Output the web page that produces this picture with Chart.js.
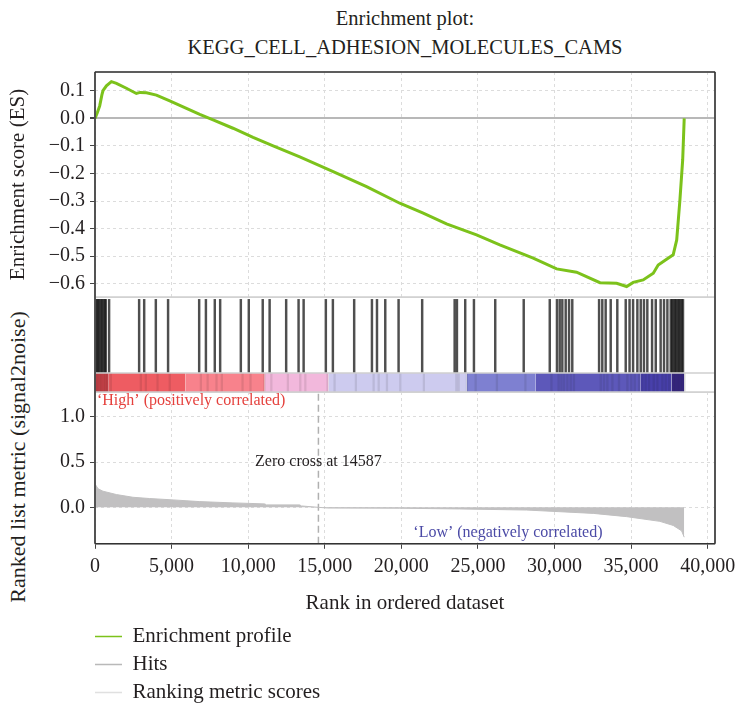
<!DOCTYPE html>
<html>
<head>
<meta charset="utf-8">
<script src="https://cdn.jsdelivr.net/npm/chart.js@4.4.1/dist/chart.umd.min.js"></script>
<style>
  body { margin: 0; background: #fff; width: 738px; height: 706px; position: relative; overflow: hidden;
         font-family: 'Liberation Serif', 'DejaVu Serif', serif; color: #231f20; }
  canvas, .abs { position: absolute; }
  #title { left: 95px; width: 620px; top: 4px; text-align: center; font-size: 20.5px; line-height: 29px; }
  #metricTitle { left: -132px; top: 445px; width: 300px; height: 24px; line-height: 24px; font-size: 22px;
                 text-align: center; white-space: nowrap; transform: rotate(-90deg); }
</style>
</head>
<body>
<div id="title" class="abs">Enrichment plot:<br>KEGG_CELL_ADHESION_MOLECULES_CAMS</div>
<div id="metricTitle" class="abs">Ranked list metric (signal2noise)</div>
<canvas id="esChart" width="738" height="298" style="left:0;top:0"></canvas>
<canvas id="hitChart" width="738" height="96" style="left:0;top:297px"></canvas>
<canvas id="metricChart" width="738" height="231" style="left:0;top:392px"></canvas>
<canvas id="legendChart" width="600" height="100" style="left:88px;top:619px"></canvas>
<script>
// ---- data ----
var esRanks = [0, 150, 307, 450, 520, 745, 1070, 1400, 2050, 2700, 2950, 3360, 4010, 4880, 5970, 6840, 7710,
    9010, 10320, 11630, 13370, 15550, 17730, 19900, 21430, 22950, 24910, 26430, 28610, 30140, 31440, 32970,
    34060, 34710, 35140, 35790, 36450, 36770, 37320, 37750, 37980, 38190, 38370, 38470];
var esValues = [0.0, 0.02, 0.045, 0.085, 0.10, 0.118, 0.133, 0.127, 0.109, 0.09, 0.094, 0.093, 0.084, 0.063,
    0.036, 0.014, -0.006, -0.036, -0.069, -0.100, -0.140, -0.193, -0.248, -0.308, -0.344, -0.383, -0.423,
    -0.459, -0.507, -0.546, -0.558, -0.596, -0.598, -0.610, -0.595, -0.586, -0.562, -0.532, -0.511, -0.495,
    -0.441, -0.296, -0.151, 0.0];

var hitRanks = [20, 90, 170, 260, 340, 430, 520, 610, 700, 760, 980, 2940, 3270, 4030, 4830, 6860, 7300, 7880,
    8230, 9580, 10100, 11010, 11460, 12540, 13350, 13680, 15130, 15590, 16980, 18140, 18470, 19010, 19880,
    21420, 23540, 23690, 24230, 24800, 26190, 28050, 29750, 30220, 30400, 30570, 30790, 31010, 31220, 32970,
    33180, 33400, 33730, 34160, 34710, 34960, 35190, 35470, 35690, 35900, 36120, 36430, 36670, 36990, 37210,
    37430, 37650, 37740, 37830, 37920, 38010, 38100, 38190, 38280, 38370, 38450];

var metricRanks = [0, 30, 200, 520, 1400, 2480, 3570, 5100, 6840, 9010, 11080, 11200, 13370, 13480, 14587,
    15200, 19900, 23800, 28180, 32530, 34710, 36880, 37750, 38300, 38470];
var metricValues = [0.26, 0.25, 0.205, 0.178, 0.141, 0.111, 0.097, 0.082, 0.063, 0.049, 0.038, 0.027, 0.027,
    0.015, 0.0, -0.008, -0.01, -0.018, -0.03, -0.067, -0.103, -0.155, -0.20, -0.26, -0.33];

var barStarts = [0, 900, 5920, 11080, 15250, 24270, 28780, 35600, 37650];
var barEnds = [900, 5920, 11080, 15250, 24270, 28780, 35600, 37650, 38470];
var barColors = ['#dc474e', '#ee5c62', '#f8828c', '#f2b8dc', '#cdcbef', '#7e80d1', '#5d58ba', '#4840ab', '#3b2a8e'];

var ZERO_CROSS = 14587;
var xTickValues = [0, 5000, 10000, 15000, 20000, 25000, 30000, 35000, 40000];
var legendLabels = ['Enrichment profile', 'Hits', 'Ranking metric scores'];
var legendColors = ['#7cc21b', '#b9b9b9', '#e0e0e0'];

// ---- shared look ----
var FONT = "'Liberation Serif', 'DejaVu Serif', serif";
var INK = '#231f20';
var GRID = '#dcdcdc';
var X_MAX = 40480;
var PAD = { left: 0, right: 23 };

function fmt1(v) {
    if (Math.abs(v) < 1e-9) return '0.0';
    return v.toFixed(1).replace('-', '\u2212');
}

// fixed-width y axis, no label overhang so panels line up
function fitY(s) {
    s.width = 95;
    s.paddingTop = 0;
    s.paddingBottom = 0;
}
function fitX(s) {
    s.paddingLeft = 0;
    s.paddingRight = 0;
}

// box around each panel: light lines everywhere, dark frame on chosen sides
var panelFrame = {
    id: 'panelFrame',
    afterDraw: function(chart, args, opts) {
        var a = chart.chartArea, ctx = chart.ctx;
        ctx.save();
        ctx.strokeStyle = '#cfcfcf';
        ctx.lineWidth = 1.5;
        ctx.strokeRect(a.left, a.top, a.right - a.left, a.bottom - a.top);
        (opts.hLines || []).forEach(function(v) {
            var py = chart.scales.y.getPixelForValue(v);
            ctx.beginPath(); ctx.moveTo(a.left, py); ctx.lineTo(a.right, py); ctx.stroke();
        });
        ctx.strokeStyle = '#333';
        ctx.lineWidth = 1.6;
        var pts = { left: [a.left, a.top, a.left, a.bottom], right: [a.right, a.top, a.right, a.bottom],
                    top: [a.left, a.top, a.right, a.top], bottom: [a.left, a.bottom, a.right, a.bottom] };
        (opts.sides || []).forEach(function(s) {
            var p = pts[s];
            ctx.beginPath(); ctx.moveTo(p[0], p[1]); ctx.lineTo(p[2], p[3]); ctx.stroke();
        });
        ctx.restore();
    }
};

// text placed in data coordinates
var textLabels = {
    id: 'textLabels',
    afterDatasetsDraw: function(chart, args, opts) {
        var ctx = chart.ctx, xs = chart.scales.x, ys = chart.scales.y;
        ctx.save();
        (opts.items || []).forEach(function(it) {
            ctx.font = it.size + 'px ' + FONT;
            ctx.fillStyle = it.color;
            ctx.textAlign = it.align;
            ctx.textBaseline = 'middle';
            ctx.fillText(it.text, xs.getPixelForValue(it.x), ys.getPixelForValue(it.y));
        });
        ctx.restore();
    }
};

function xGrid(showTicks) {
    return {
        type: 'linear', min: 0, max: X_MAX,
        afterBuildTicks: function(s) { s.ticks = xTickValues.map(function(v) { return { value: v }; }); },
        afterFit: fitX,
        ticks: { display: showTicks, padding: 6, color: INK, font: { family: FONT, size: 20 },
                 callback: function(v) { return v.toLocaleString('en-US'); } },
        grid: { color: GRID, drawTicks: showTicks, tickLength: 5, tickColor: '#444', tickBorderDash: [] },
        border: { display: false, dash: [3, 3] }
    };
}

// ---- enrichment score panel ----
var esChart = new Chart(document.getElementById('esChart'), {
    type: 'line',
    data: {
        datasets: [{
            label: 'Enrichment profile',
            data: esRanks.map(function(r, i) { return { x: r, y: esValues[i] }; }),
            borderColor: legendColors[0],
            borderWidth: 3,
            pointRadius: 0,
            tension: 0
        }]
    },
    options: {
        responsive: false,
        animation: false,
        layout: { padding: { left: PAD.left, right: PAD.right, top: 72, bottom: 1 } },
        plugins: { legend: { display: false }, tooltip: { enabled: false }, panelFrame: { sides: ['left', 'top', 'right'] } },
        scales: {
            x: xGrid(false),
            y: {
                min: -0.648, max: 0.168,
                afterFit: fitY,
                ticks: { stepSize: 0.1, includeBounds: false, padding: 5, color: INK, font: { family: FONT, size: 20 }, callback: fmt1 },
                grid: {
                    color: function(c) { return c.tick && Math.abs(c.tick.value) < 1e-9 ? '#b8b8b8' : GRID; },
                    lineWidth: function(c) { return c.tick && Math.abs(c.tick.value) < 1e-9 ? 2 : 1; },
                    tickLength: 5, tickColor: '#444', tickBorderDash: []
                },
                border: { display: false, dash: function(c) { return c.tick && Math.abs(c.tick.value) < 1e-9 ? [] : [3, 3]; } },
                title: { display: true, text: 'Enrichment score (ES)', color: INK, font: { family: FONT, size: 21 }, padding: { top: 6, bottom: 0 } }
            }
        }
    },
    plugins: [panelFrame]
});

// ---- hits + ranked colour bar ----
var colorSets = barStarts.map(function(s, i) {
    return {
        type: 'line',
        data: [{ x: s, y: 0.2 }, { x: barEnds[i], y: 0.2 }],
        backgroundColor: barColors[i],
        borderWidth: 0,
        pointRadius: 0,
        fill: 'origin',
        order: 3
    };
});
var hitChart = new Chart(document.getElementById('hitChart'), {
    type: 'bar',
    data: {
        datasets: [{
            label: 'Hits',
            data: hitRanks.map(function(r) { return { x: r, y: [0.205, 0.975] }; }),
            backgroundColor: 'rgba(20,20,20,0.75)',
            barThickness: 1.8,
            order: 1
        }, {
            label: 'Hits (bar)',
            data: hitRanks.map(function(r) { return { x: r, y: [0, 0.2] }; }),
            backgroundColor: 'rgba(20,20,20,0.10)',
            barThickness: 1.6,
            order: 2
        }].concat(colorSets)
    },
    options: {
        responsive: false,
        animation: false,
        layout: { padding: { left: 95, right: PAD.right, top: 0, bottom: 1 } },
        plugins: { legend: { display: false }, tooltip: { enabled: false }, panelFrame: { sides: ['left', 'right'], hLines: [0.2] } },
        scales: {
            x: { type: 'linear', min: 0, max: X_MAX, display: false, offset: false, grid: { offset: false } },
            y: { min: 0, max: 1, display: false }
        }
    },
    plugins: [panelFrame]
});

// ---- ranked list metric panel ----
var metricChart = new Chart(document.getElementById('metricChart'), {
    type: 'line',
    data: {
        datasets: [{
            label: 'Ranking metric scores',
            data: metricRanks.map(function(r, i) { return { x: r, y: metricValues[i] }; }),
            borderColor: '#c1c0c1',
            backgroundColor: '#c1c0c1',
            borderWidth: 1,
            pointRadius: 0,
            tension: 0,
            fill: 'origin'
        }, {
            label: 'Zero cross',
            data: [{ x: ZERO_CROSS, y: -0.403 }, { x: ZERO_CROSS, y: 1.274 }],
            borderColor: '#b0b0b0',
            borderWidth: 1.5,
            borderDash: [7, 4],
            pointRadius: 0
        }]
    },
    options: {
        responsive: false,
        animation: false,
        layout: { padding: { left: PAD.left, right: PAD.right, top: 0, bottom: 3 } },
        plugins: {
            legend: { display: false }, tooltip: { enabled: false },
            panelFrame: { sides: ['left', 'right', 'bottom'] },
            textLabels: { items: [
                { text: 'Zero cross at ' + ZERO_CROSS, x: ZERO_CROSS, y: 0.5, align: 'center', size: 16, color: INK },
                { text: '\u2018High\u2019 (positively correlated)', x: 130, y: 1.175, align: 'left', size: 16, color: '#e5413d' },
                { text: '\u2018Low\u2019 (negatively correlated)', x: 26960, y: -0.281, align: 'center', size: 16, color: '#4b4aa6' }
            ] }
        },
        scales: {
            x: Object.assign(xGrid(true), {
                title: { display: true, text: 'Rank in ordered dataset', color: INK, font: { family: FONT, size: 21 }, padding: { top: 6, bottom: 4 } }
            }),
            y: {
                min: -0.403, max: 1.274,
                afterFit: fitY,
                ticks: { stepSize: 0.5, includeBounds: false, padding: 5, color: INK, font: { family: FONT, size: 20 }, callback: fmt1 },
                grid: { color: GRID, tickLength: 5, tickColor: '#444', tickBorderDash: [] },
                border: { display: false, dash: [3, 3] }
            }
        }
    },
    plugins: [panelFrame, textLabels]
});

// ---- legend ----
var legendChart = new Chart(document.getElementById('legendChart'), {
    type: 'line',
    data: {
        datasets: legendLabels.map(function(l, i) {
            return { label: l, data: [], borderColor: legendColors[i], backgroundColor: legendColors[i], borderWidth: 1.5, pointStyle: 'line' };
        })
    },
    options: {
        responsive: false,
        animation: false,
        layout: { padding: 0 },
        plugins: {
            tooltip: { enabled: false },
            legend: {
                position: 'left', align: 'start',
                labels: { usePointStyle: true, pointStyleWidth: 27, padding: 7, color: INK, font: { family: FONT, size: 21 } }
            }
        },
        scales: { x: { display: false }, y: { display: false } }
    }
});
</script>
</body>
</html>
